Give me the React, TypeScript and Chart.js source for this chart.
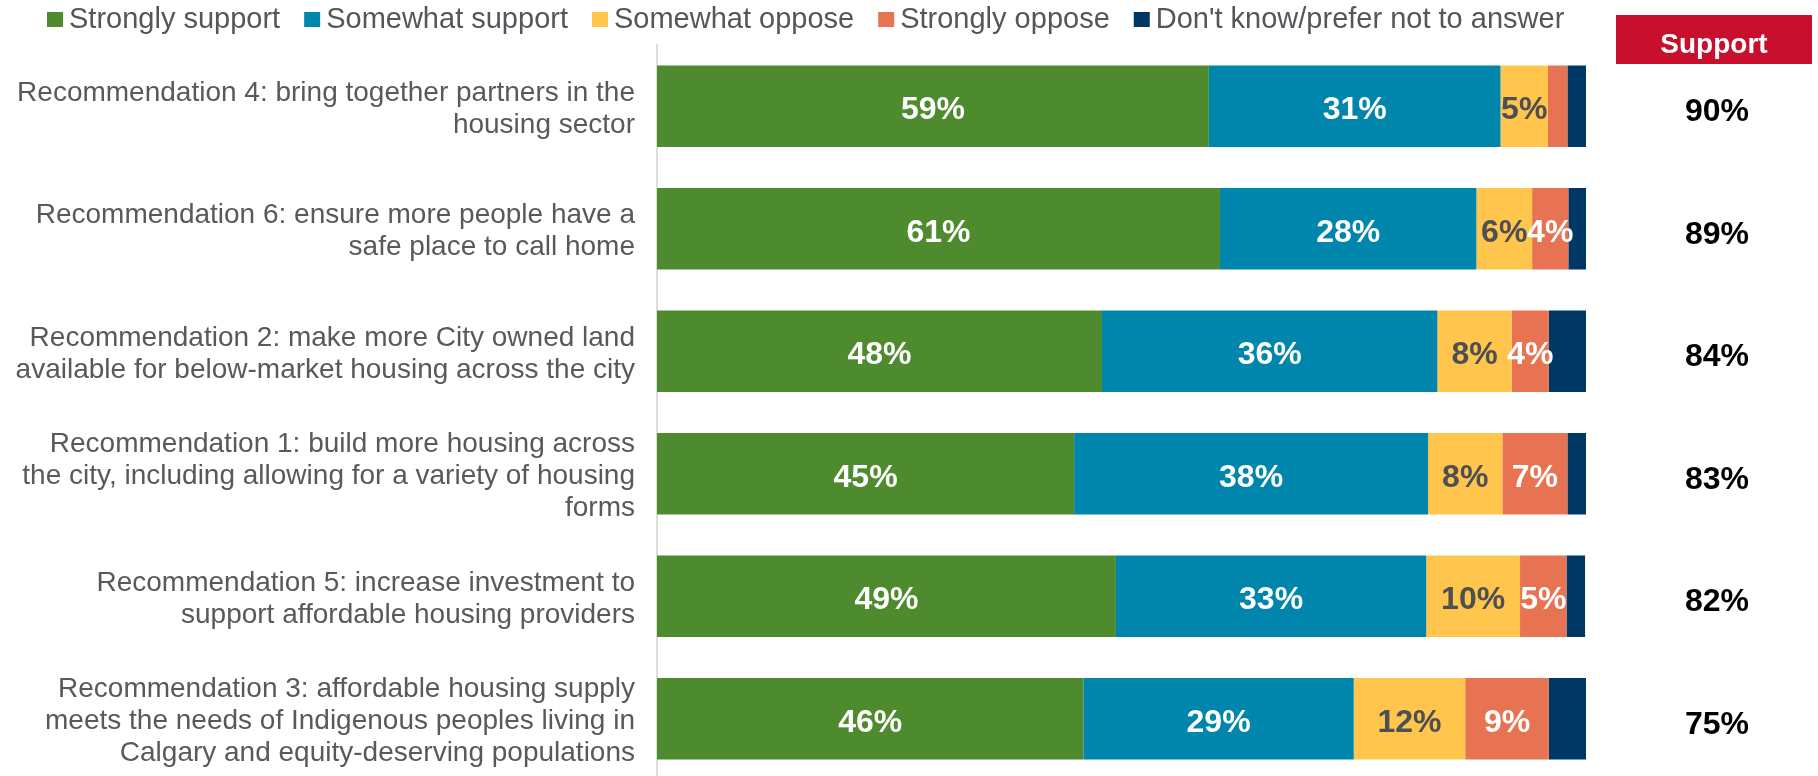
import React, { useEffect, useRef } from "react";
import { Chart, registerables } from "chart.js";

Chart.register(...registerables);

const categories: string[][] = [
  ["Recommendation 4: bring together partners in the", "housing sector"],
  ["Recommendation 6: ensure more people have a", "safe place to call home"],
  ["Recommendation 2: make more City owned land", "available for below-market housing across the city"],
  ["Recommendation 1: build more housing across", "the city, including allowing for a variety of housing", "forms"],
  ["Recommendation 5: increase investment to", "support affordable housing providers"],
  ["Recommendation 3: affordable housing supply", "meets the needs of Indigenous peoples living in", "Calgary and equity-deserving populations"],
];

const stronglySupport = [59.4, 60.6, 47.9, 44.9, 49.4, 45.9];
const somewhatSupport = [31.4, 27.6, 36.1, 38.1, 33.4, 29.1];
const somewhatOppose = [5.1, 6.0, 8.0, 8.0, 10.1, 12.0];
const stronglyOppose = [2.1, 3.9, 4.0, 7.0, 5.0, 9.0];
const dontKnow = [2.0, 1.9, 4.0, 2.0, 2.0, 4.0];
const supportTotals = [90, 89, 84, 83, 82, 75];

const seriesNames = ["Strongly support", "Somewhat support", "Somewhat oppose", "Strongly oppose", "Don't know/prefer not to answer"];
const seriesColors = ["#4E8B2E", "#0086AD", "#FFC54D", "#E87352", "#003865"];
const labelColors = ["#FFFFFF", "#FFFFFF", "#4D4F53", "#FFFFFF", null];
const supportHeader = "Support";

const FONT = '"Liberation Sans", Arial, sans-serif';

const legendPlugin = {
  id: "customLegend",
  afterDraw(chart: any) {
    const ctx = chart.ctx;
    ctx.save();
    ctx.font = `29px ${FONT}`;
    ctx.textBaseline = "alphabetic";
    ctx.textAlign = "left";
    let x = 47;
    chart.data.datasets.forEach((ds: any) => {
      ctx.fillStyle = ds.backgroundColor;
      ctx.fillRect(x, 12, 16, 15);
      x += 16 + 6;
      ctx.fillStyle = "#53565A";
      ctx.fillText(ds.label, x, 28);
      x += ctx.measureText(ds.label).width + 24;
    });
    ctx.restore();
  },
};

const barLabelPlugin = {
  id: "barLabels",
  afterDatasetsDraw(chart: any) {
    const ctx = chart.ctx;
    ctx.save();
    ctx.font = `bold 32px ${FONT}`;
    ctx.textAlign = "center";
    ctx.textBaseline = "middle";
    chart.data.datasets.forEach((ds: any, i: number) => {
      const color = labelColors[i];
      if (!color) return;
      const meta = chart.getDatasetMeta(i);
      meta.data.forEach((el: any, j: number) => {
        const v = ds.data[j];
        if (v < 3) return;
        ctx.fillStyle = color;
        ctx.fillText(`${Math.round(v)}%`, (el.x + el.base) / 2, el.y + 4);
      });
    });
    ctx.restore();
  },
};

const supportPlugin = {
  id: "supportColumn",
  afterDraw(chart: any) {
    const ctx = chart.ctx;
    const yScale = chart.scales.y;
    ctx.save();
    ctx.fillStyle = "#C8102E";
    ctx.fillRect(1616, 15, 196, 49);
    ctx.fillStyle = "#FFFFFF";
    ctx.font = `bold 28px ${FONT}`;
    ctx.textAlign = "center";
    ctx.textBaseline = "alphabetic";
    ctx.fillText(supportHeader, 1714, 53);
    ctx.fillStyle = "#000000";
    ctx.font = `bold 32px ${FONT}`;
    supportTotals.forEach((v, j) => {
      const y = yScale.getPixelForValue(j);
      ctx.fillText(`${v}%`, 1717, y + 15);
    });
    ctx.restore();
  },
};

export default function App() {
  const ref = useRef<HTMLCanvasElement | null>(null);
  useEffect(() => {
    if (!ref.current) return;
    const values = [stronglySupport, somewhatSupport, somewhatOppose, stronglyOppose, dontKnow];
    const chart = new Chart(ref.current, {
      type: "bar",
      data: {
        labels: categories,
        datasets: values.map((d, i) => ({
          label: seriesNames[i],
          data: d,
          backgroundColor: seriesColors[i],
          borderWidth: 0,
          barPercentage: 0.665,
          categoryPercentage: 1,
        })),
      },
      options: {
        indexAxis: "y",
        animation: false,
        responsive: false,
        devicePixelRatio: 1,
        layout: { padding: { top: 45, right: 232, bottom: 10, left: 0 } },
        plugins: {
          legend: { display: false },
          tooltip: { enabled: false },
        },
        scales: {
          x: {
            stacked: true,
            min: 0,
            max: 100,
            display: false,
          },
          y: {
            stacked: true,
            grid: { display: false, drawTicks: false },
            border: { display: true, color: "#DDDDDD", width: 2 },
            ticks: {
              color: "#595959",
              padding: 22,
              labelOffset: 3,
              font: { family: FONT, size: 28, lineHeight: 1.143 },
            },
            afterFit(scale: any) {
              scale.width = 657;
              scale.paddingTop = 0;
              scale.paddingBottom = 0;
            },
          },
        },
      } as any,
      plugins: [legendPlugin, barLabelPlugin, supportPlugin],
    });
    return () => chart.destroy();
  }, []);
  return (
    <div style={{ position: "absolute", left: 0, top: 0, width: 1818, height: 776, overflow: "hidden", background: "#fff" }}>
      <canvas ref={ref} width={1818} height={790} style={{ display: "block" }} />
    </div>
  );
}
